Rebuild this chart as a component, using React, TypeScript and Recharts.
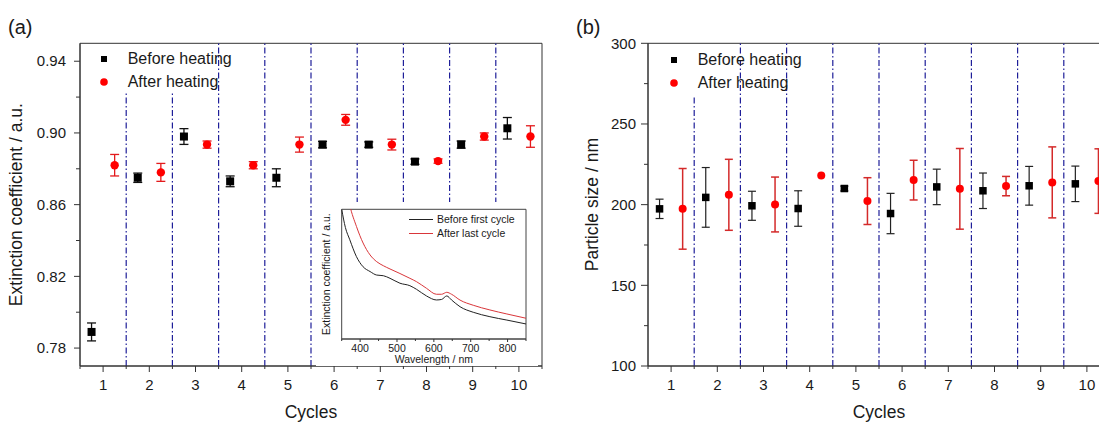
import React from 'react';
import {
  ScatterChart,
  Scatter,
  LineChart,
  Line,
  XAxis,
  YAxis,
  ErrorBar,
  ReferenceLine,
  ReferenceArea,
  Label
} from 'recharts';

const FONT = "'Liberation Sans', Arial, sans-serif";
const AXIS = '#333';
const TEXT = '#1a1a1a';
const DIVIDER = '#1f1f99';

// shared x axis: heating cycles
const cycles = [1, 2, 3, 4, 5, 6, 7, 8, 9, 10];
const cycleTicks = [0.5, 1, 1.5, 2, 2.5, 3, 3.5, 4, 4.5, 5, 5.5, 6, 6.5, 7, 7.5, 8, 8.5, 9, 9.5, 10, 10.5];
const dividers = [1.5, 2.5, 3.5, 4.5, 5.5, 6.5, 7.5, 8.5, 9.5];

// (a) extinction coefficient
const extBefore = [0.789, 0.875, 0.898, 0.873, 0.875, 0.8935, 0.8935, 0.884, 0.8935, 0.9026];
const extBeforeErr = [0.005, 0.0026, 0.0044, 0.003, 0.005, 0.0018, 0.0015, 0.0015, 0.002, 0.006];
const extAfter = [0.882, 0.878, 0.8935, 0.882, 0.8935, 0.9073, 0.8935, 0.8843, 0.898, 0.898];
const extAfterErr = [0.006, 0.005, 0.002, 0.002, 0.0042, 0.003, 0.003, 0.0012, 0.002, 0.006];
const extTicks = [0.78, 0.8, 0.82, 0.84, 0.86, 0.88, 0.9, 0.92, 0.94];
const extLabels = [0.78, 0.82, 0.86, 0.9, 0.94];

// (b) particle size
const sizeBefore = [197.4, 204.5, 199.3, 197.6, 210, 194.5, 211, 208.6, 211.7, 212.9];
const sizeBeforeErr = [6, 18.5, 9, 11, 1.5, 12.5, 11, 11, 12, 11];
const sizeAfter = [197.4, 206.1, 200.1, 218.1, 202.2, 215.2, 209.8, 211.5, 213.8, 214.6];
const sizeAfterErr = [25, 22, 17, 0, 14.5, 12.3, 25, 6, 22, 20];
const sizeTicks = [100, 125, 150, 175, 200, 225, 250, 275, 300];
const sizeLabels = [100, 150, 200, 250, 300];

// inset spectra (arbitrary units)
const wavelengths = [350, 360, 372, 390, 408, 427, 445, 463, 481, 508, 535, 553, 580, 607, 621, 635, 648, 671, 707, 752, 798, 850];
const specBefore = [1.0, 0.86, 0.765, 0.635, 0.557, 0.52, 0.493, 0.488, 0.468, 0.43, 0.411, 0.383, 0.332, 0.301, 0.305, 0.332, 0.301, 0.249, 0.206, 0.172, 0.146, 0.116];
const specAfter = [1.35, 1.2, 1.03, 0.868, 0.74, 0.648, 0.596, 0.565, 0.54, 0.505, 0.468, 0.442, 0.391, 0.345, 0.345, 0.36, 0.345, 0.3, 0.26, 0.224, 0.193, 0.16];
const wlTicks = [350, 400, 450, 500, 550, 600, 650, 700, 750, 800, 850];
const wlLabels = [400, 500, 600, 700, 800];

const toPoints = (vals: number[], errs: number[], shift: number) =>
  cycles.map((c, i) => ({ x: c + shift, y: vals[i], err: errs[i] }));

const extBeforeData = toPoints(extBefore, extBeforeErr, -0.25);
const extAfterData = toPoints(extAfter, extAfterErr, 0.25);
const sizeBeforeData = toPoints(sizeBefore, sizeBeforeErr, -0.25);
const sizeAfterData = toPoints(sizeAfter, sizeAfterErr, 0.25);
const spectrum = wavelengths.map((wl, i) => ({ wl, before: specBefore[i], after: specAfter[i] }));

const isIn = (list: number[], v: number) => list.some((m) => Math.abs(m - v) < 1e-6);

const yTick = (labels: number[], fmt: (v: number) => string, majorLen: number, minorLen: number, gap: number, fontSize: number) =>
  (p: any) => {
    const v = p.payload.value;
    const major = isIn(labels, v);
    const len = major ? majorLen : minorLen;
    return (
      <g>
        <line x1={p.x - len} x2={p.x} y1={p.y} y2={p.y} stroke={AXIS} strokeWidth={1} />
        {major && (
          <text x={p.x - len - gap} y={p.y} dy="0.35em" textAnchor="end" fontSize={fontSize} fontFamily={FONT} fill={TEXT}>
            {fmt(v)}
          </text>
        )}
      </g>
    );
  };

const xTick = (labels: number[], majorLen: number, minorLen: number, baseline: number, fontSize: number) =>
  (p: any) => {
    const v = p.payload.value;
    const major = isIn(labels, v);
    const len = major ? majorLen : minorLen;
    return (
      <g>
        <line x1={p.x} x2={p.x} y1={p.y} y2={p.y + len} stroke={AXIS} strokeWidth={1} />
        {major && (
          <text x={p.x} y={p.y + baseline} textAnchor="middle" fontSize={fontSize} fontFamily={FONT} fill={TEXT}>
            {String(v)}
          </text>
        )}
      </g>
    );
  };

const vLabel = (text: string, offset: number, fontSize: number) => (props: any) => {
  const vb = props.viewBox;
  const x = vb.x + offset;
  const y = vb.y + vb.height / 2;
  return (
    <text x={x} y={y} dy="0.35em" transform={`rotate(-90, ${x}, ${y})`} textAnchor="middle" fontSize={fontSize} fontFamily={FONT} fill={TEXT}>
      {text}
    </text>
  );
};

const hLabel = (text: string, offset: number, fontSize: number) => (props: any) => {
  const vb = props.viewBox;
  return (
    <text x={vb.x + vb.width / 2} y={vb.y + vb.height - offset} textAnchor="middle" fontSize={fontSize} fontFamily={FONT} fill={TEXT}>
      {text}
    </text>
  );
};

const square = (size: number, fill: string) => (p: any) => (
  <rect x={p.cx - size / 2} y={p.cy - size / 2} width={size} height={size} fill={fill} />
);
const dot = (r: number, fill: string) => (p: any) => <circle cx={p.cx} cy={p.cy} r={r} fill={fill} />;

const PanelLegend = ({ left, top }: { left: number; top: number }) => (
  <div style={{ position: 'absolute', left, top, fontFamily: FONT, fontSize: 16, color: TEXT }}>
    <div style={{ position: 'relative', height: 22.7 }}>
      <svg width={10} height={10} style={{ position: 'absolute', left: -5, top: -5 }}>
        <rect x={2} y={2} width={6} height={6} fill="#000" />
      </svg>
      <span style={{ position: 'absolute', left: 23.7, top: -9, lineHeight: '18px', whiteSpace: 'nowrap' }}>Before heating</span>
    </div>
    <div style={{ position: 'relative' }}>
      <svg width={10} height={10} style={{ position: 'absolute', left: -5, top: -5 }}>
        <circle cx={5} cy={5} r={3.8} fill="#ff0000" />
      </svg>
      <span style={{ position: 'absolute', left: 23.7, top: -9, lineHeight: '18px', whiteSpace: 'nowrap' }}>After heating</span>
    </div>
  </div>
);

const Inset = () => (
  <div style={{ position: 'absolute', left: 316, top: 202, width: 222, height: 164, background: '#fff' }}>
    <LineChart width={222} height={164} data={spectrum} margin={{ top: 7.3, right: 12, bottom: 0, left: 0 }}>
      <XAxis
        type="number"
        dataKey="wl"
        domain={[350, 850]}
        ticks={wlTicks}
        interval={0}
        tickSize={0}
        tickMargin={0}
        tickLine={false}
        tick={xTick(wlLabels, 3, 2, 12.5, 10.5)}
        axisLine={{ stroke: '#444' }}
        height={27}
      >
        <Label content={hLabel('Wavelength / nm', 3.5, 10.5)} />
      </XAxis>
      <YAxis type="number" domain={[0, 1]} allowDataOverflow width={25.7} tick={false} tickLine={false} axisLine={false}>
        <Label content={vLabel('Extinction coefficient / a.u.', 10, 10.5)} />
      </YAxis>
      <ReferenceArea x1={350} x2={850} y1={0} y2={1} fill="none" stroke="#444" strokeWidth={1} />
      <Line type="monotone" dataKey="before" stroke="#222" strokeWidth={1} dot={false} isAnimationActive={false} />
      <Line type="monotone" dataKey="after" stroke="#d9363a" strokeWidth={1} dot={false} isAnimationActive={false} />
    </LineChart>
    <div style={{ position: 'absolute', left: 93, top: 10, fontFamily: FONT, fontSize: 10.5, color: TEXT, lineHeight: '14px' }}>
      <div style={{ display: 'flex', alignItems: 'center' }}>
        <span style={{ width: 24, borderTop: '1px solid #222', marginRight: 4 }} />
        <span style={{ whiteSpace: 'nowrap' }}>Before first cycle</span>
      </div>
      <div style={{ display: 'flex', alignItems: 'center' }}>
        <span style={{ width: 24, borderTop: '1px solid #d9363a', marginRight: 4 }} />
        <span style={{ whiteSpace: 'nowrap' }}>After last cycle</span>
      </div>
    </div>
  </div>
);

const App: React.FC = () => {
  return (
    <div style={{ position: 'absolute', left: 0, top: 0, width: 1099, height: 422, overflow: 'hidden', background: '#fff' }}>
      {/* (a) extinction coefficient vs cycles */}
      <div style={{ position: 'absolute', left: 0, top: 0 }}>
        <ScatterChart width={560} height={422} margin={{ top: 43.3, right: 18, bottom: 0, left: 0 }}>
          <XAxis
            type="number"
            dataKey="x"
            domain={[0.5, 10.5]}
            ticks={cycleTicks}
            interval={0}
            allowDataOverflow
            tickSize={0}
            tickMargin={0}
            tickLine={false}
            tick={xTick(cycles, 6, 3, 24, 15)}
            axisLine={{ stroke: AXIS }}
            height={56}
          >
            <Label content={hLabel('Cycles', 4.5, 17.5)} />
          </XAxis>
          <YAxis
            type="number"
            dataKey="y"
            domain={[0.77, 0.95]}
            ticks={extTicks}
            interval={0}
            allowDataOverflow
            tickSize={0}
            tickMargin={0}
            tickLine={false}
            tick={yTick(extLabels, (v) => v.toFixed(2), 6, 4, 8, 15)}
            axisLine={{ stroke: AXIS }}
            width={80}
          >
            <Label content={vLabel('Extinction coefficient / a.u.', 16, 17.5)} />
          </YAxis>
          <ReferenceArea x1={0.5} x2={10.5} y1={0.77} y2={0.95} fill="none" stroke={AXIS} strokeWidth={1} />
          {dividers.map((d, i) =>
            i < 2 ? (
              <ReferenceLine key={d} segment={[{ x: d, y: 0.77 }, { x: d, y: 0.923 }]} stroke={DIVIDER} strokeWidth={1.2} strokeDasharray="6 2.5 1.5 2.5" />
            ) : (
              <ReferenceLine key={d} x={d} stroke={DIVIDER} strokeWidth={1.2} strokeDasharray="6 2.5 1.5 2.5" />
            )
          )}
          <Scatter data={extBeforeData} dataKey="y" shape={square(8, '#000')} isAnimationActive={false}>
            <ErrorBar dataKey="err" direction="y" width={4.5} stroke="#111" strokeWidth={1.3} isAnimationActive={false} />
          </Scatter>
          <Scatter data={extAfterData} dataKey="y" shape={dot(4.2, '#ff0000')} isAnimationActive={false}>
            <ErrorBar dataKey="err" direction="y" width={4.5} stroke="#e31a1c" strokeWidth={1.3} isAnimationActive={false} />
          </Scatter>
        </ScatterChart>
      </div>
      <Inset />
      <PanelLegend left={104} top={59} />
      <div style={{ position: 'absolute', left: 8, top: 17, fontFamily: FONT, fontSize: 20, lineHeight: '20px', color: TEXT }}>(a)</div>

      {/* (b) particle size vs cycles */}
      <div style={{ position: 'absolute', left: 560, top: 0 }}>
        <ScatterChart width={560} height={422} margin={{ top: 43.3, right: 10, bottom: 0, left: 0 }}>
          <XAxis
            type="number"
            dataKey="x"
            domain={[0.5, 10.5]}
            ticks={cycleTicks}
            interval={0}
            allowDataOverflow
            tickSize={0}
            tickMargin={0}
            tickLine={false}
            tick={xTick(cycles, 6, 3, 24, 15)}
            axisLine={{ stroke: AXIS }}
            height={56}
          >
            <Label content={hLabel('Cycles', 4.5, 17.5)} />
          </XAxis>
          <YAxis
            type="number"
            dataKey="y"
            domain={[100, 300]}
            ticks={sizeTicks}
            interval={0}
            allowDataOverflow
            tickSize={0}
            tickMargin={0}
            tickLine={false}
            tick={yTick(sizeLabels, (v) => String(v), 7, 4, 5, 15)}
            axisLine={{ stroke: AXIS }}
            width={88}
          >
            <Label content={vLabel('Particle size / nm', 32, 17.5)} />
          </YAxis>
          <ReferenceArea x1={0.5} x2={10.5} y1={100} y2={300} fill="none" stroke={AXIS} strokeWidth={1} />
          {dividers.map((d, i) =>
            i < 1 ? (
              <ReferenceLine key={d} segment={[{ x: d, y: 100 }, { x: d, y: 268 }]} stroke={DIVIDER} strokeWidth={1.2} strokeDasharray="6 2.5 1.5 2.5" />
            ) : (
              <ReferenceLine key={d} x={d} stroke={DIVIDER} strokeWidth={1.2} strokeDasharray="6 2.5 1.5 2.5" />
            )
          )}
          <Scatter data={sizeBeforeData} dataKey="y" shape={square(7.5, '#000')} isAnimationActive={false}>
            <ErrorBar dataKey="err" direction="y" width={4} stroke="#222" strokeWidth={1.2} isAnimationActive={false} />
          </Scatter>
          <Scatter data={sizeAfterData} dataKey="y" shape={dot(4, '#ff0000')} isAnimationActive={false}>
            <ErrorBar dataKey="err" direction="y" width={4} stroke="#d42a2a" strokeWidth={1.5} isAnimationActive={false} />
          </Scatter>
        </ScatterChart>
      </div>
      <PanelLegend left={674} top={60} />
      <div style={{ position: 'absolute', left: 576, top: 17, fontFamily: FONT, fontSize: 20, lineHeight: '20px', color: TEXT }}>(b)</div>
    </div>
  );
};

export default App;
